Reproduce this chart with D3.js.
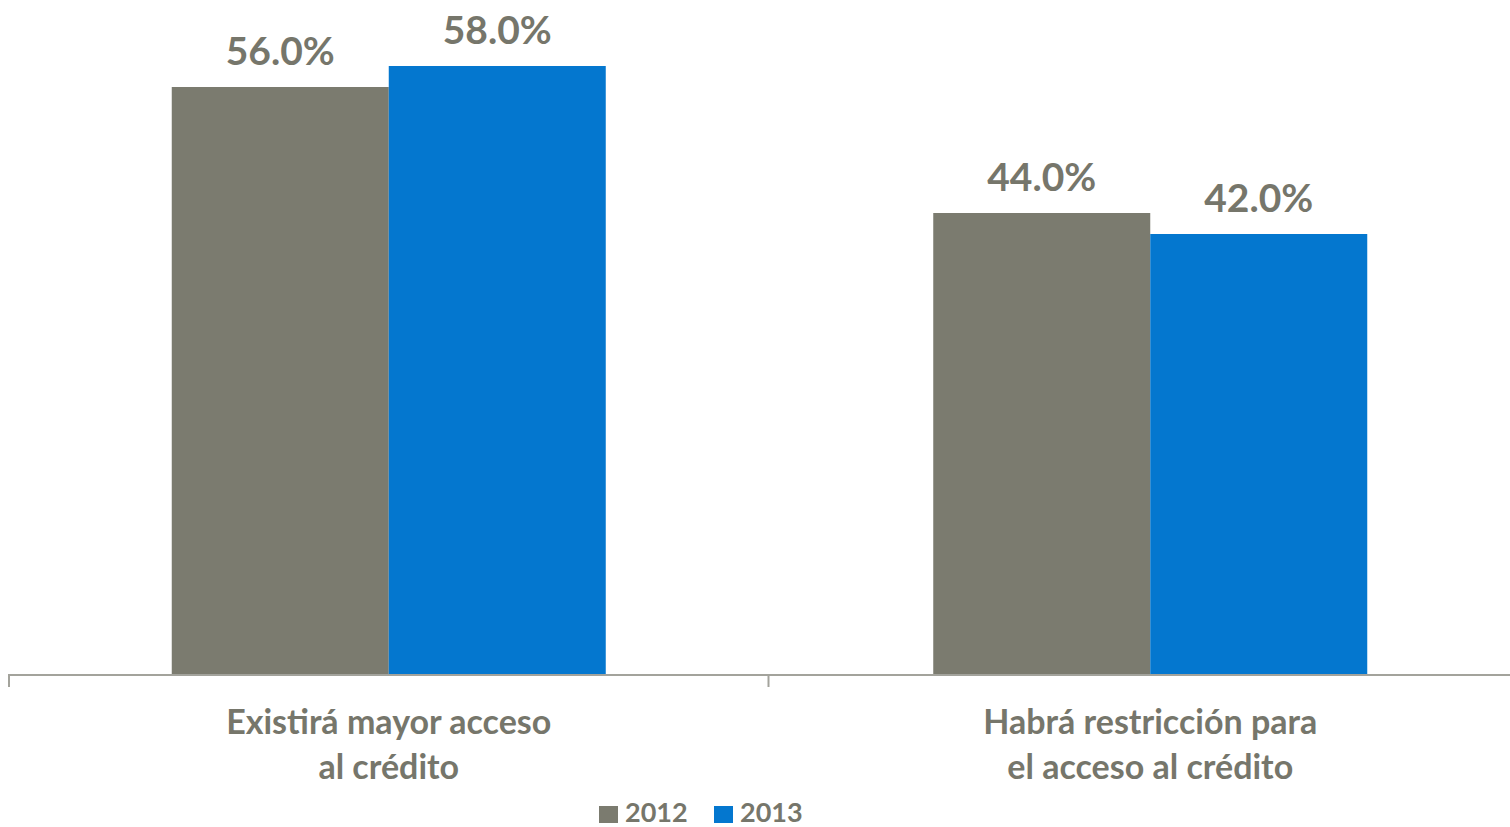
<!DOCTYPE html>
<html>
<head>
<meta charset="utf-8">
<script src="https://cdn.jsdelivr.net/npm/d3@7"></script>
<style>
  html, body { margin: 0; padding: 0; background: #fff; }
  svg { display: block; font-family: Lato, "Open Sans", sans-serif; font-weight: bold; }
</style>
</head>
<body>
<div id="vis"></div>
<script>
// chart data
var categories = [["Existirá mayor acceso", "al crédito"], ["Habrá restricción para", "el acceso al crédito"]];
var series = ["2012", "2013"];
var values2012 = [56.0, 44.0];
var values2013 = [58.0, 42.0];

(function() {
  var width = 1510, height = 827;
  var textColor = "#76766b";
  var colors = {"2012": "#7b7b6f", "2013": "#0477cf"};

  var x0 = 9, x1 = 1528, baseY = 675;

  var svg = d3.select("#vis").append("svg")
    .attr("width", width)
    .attr("height", height);

  var x = d3.scaleBand()
    .domain(d3.range(categories.length))
    .range([x0, x1])
    .paddingInner(0)
    .paddingOuter(0);

  // two bars per group, no gap between them
  var inner = d3.scaleBand()
    .domain(series)
    .range([0, x.bandwidth()])
    .paddingOuter(0.75)
    .paddingInner(0);

  var y = d3.scaleLinear()
    .domain([0, 60])
    .range([baseY, baseY - 630]);

  var rows = categories.map(function(c, i) {
    return {i: i, vals: [{s: "2012", v: values2012[i]}, {s: "2013", v: values2013[i]}]};
  });

  var groups = svg.selectAll("g.group")
    .data(rows)
    .enter().append("g")
    .attr("class", "group")
    .attr("transform", function(d) { return "translate(" + (x(d.i) + d.i * 2) + ",0)"; });

  groups.selectAll("rect")
    .data(function(d) { return d.vals; })
    .enter().append("rect")
    .attr("x", function(d) { return inner(d.s); })
    .attr("y", function(d) { return y(d.v); })
    .attr("width", inner.bandwidth())
    .attr("height", function(d) { return baseY - y(d.v); })
    .style("fill", function(d) { return colors[d.s]; });

  groups.selectAll("text.val")
    .data(function(d) { return d.vals; })
    .enter().append("text")
    .attr("class", "val")
    .attr("x", function(d) { return inner(d.s) + inner.bandwidth() / 2; })
    .attr("y", function(d) { return y(d.v) - 22; })
    .attr("text-anchor", "middle")
    .style("font-size", "39px")
    .style("fill", textColor)
    .text(function(d) { return d3.format(".1f")(d.v) + "%"; });

  // x axis
  var axis = d3.axisBottom(x)
    .tickSize(12)
    .tickFormat("");
  var ax = svg.append("g")
    .attr("transform", "translate(0," + baseY + ")")
    .call(axis);
  ax.select(".domain").attr("stroke", "#a3a39c").attr("stroke-width", 2).attr("d", "M" + x0 + ",12V0H" + x1);
  ax.selectAll(".tick").attr("transform", function(d) { return "translate(" + (x(d) + x.bandwidth()) + ",0)"; });
  ax.selectAll(".tick line").attr("stroke", "#a3a39c").attr("stroke-width", 2);

  // category labels
  var labels = svg.selectAll("text.cat")
    .data(categories)
    .enter().append("text")
    .attr("class", "cat")
    .attr("text-anchor", "middle")
    .style("font-size", "34px")
    .style("fill", textColor);
  labels.selectAll("tspan")
    .data(function(d, i) { return d.map(function(t) { return {t: t, i: i}; }); })
    .enter().append("tspan")
    .attr("x", function(d) { return x(d.i) + x.bandwidth() / 2 + d.i * 2; })
    .attr("y", function(d, j) { return 734 + j * 45; })
    .text(function(d) { return d.t; });

  // legend
  var legend = svg.append("g").attr("transform", "translate(599,806)");
  var item = legend.selectAll("g")
    .data(series)
    .enter().append("g")
    .attr("transform", function(d, i) { return "translate(" + (i * 115) + ",0)"; });
  item.append("rect")
    .attr("width", 19).attr("height", 17)
    .style("fill", function(d) { return colors[d]; });
  item.append("text")
    .attr("x", 26).attr("y", 16)
    .style("font-size", "27px")
    .style("fill", textColor)
    .text(function(d) { return d; });
}());
</script>
</body>
</html>
